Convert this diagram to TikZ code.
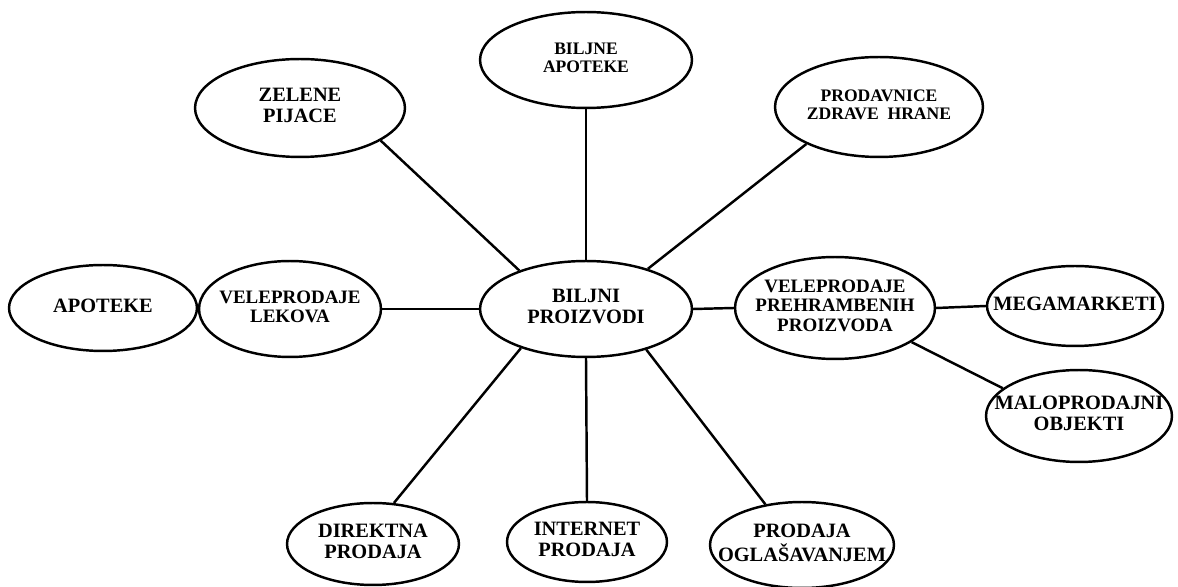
\documentclass[tikz,border=0pt]{standalone}
\usepackage{fontspec}
\setmainfont{Liberation Serif}
\usetikzlibrary{shapes.geometric}
\newcommand{\txt}[1]{\makebox[0pt]{\begin{tabular}{@{}c@{}}#1\end{tabular}}}
\tikzset{
  ell/.style 2 args={ellipse, draw, line width=1.4pt, inner sep=0pt,
    minimum width=#1*0.04cm, minimum height=#2*0.04cm},
  fbig/.style={font=\fontsize{11.6}{11.8}\selectfont\bfseries},
  fmid/.style={font=\fontsize{10.8}{11.2}\selectfont\bfseries},
  fsmall/.style={font=\fontsize{10}{10}\selectfont\bfseries},
  conn/.style={line width=1.4pt}
}
\begin{document}
\begin{tikzpicture}[x=0.02cm, y=-0.02cm]
\useasboundingbox (0,0) rectangle (1178,587);
\node[ell={106}{48}, fbig]   (bp) at (586,309) {\txt{BILJNI\\PROIZVODI}};
\node[ell={106}{48}, fsmall] (ba) at (586,60)  {\txt{BILJNE\\APOTEKE}};
\node[ell={105}{49}, fbig]   (zp) at (300,108) {\txt{ZELENE\\PIJACE}};
\node[ell={104}{50}, fsmall] (pz) at (879,107) {\txt{PRODAVNICE\\ZDRAVE\ \ HRANE}};
\node[ell={94}{43}, fbig]    (ap) at (103,308) {\txt{APOTEKE}};
\node[ell={91}{48}, fmid]    (vl) at (290,309) {\txt{VELEPRODAJE\\LEKOVA}};
\node[ell={100}{51}, fmid]   (vp) at (835,308) {\txt{VELEPRODAJE\\PREHRAMBENIH\\PROIZVODA}};
\node[ell={88}{40}, fbig]    (mm) at (1075,306) {\txt{MEGAMARKETI}};
\node[ell={93}{46}, fbig]    (mo) at (1079,416) {\txt{MALOPRODAJNI\\OBJEKTI}};
\node[ell={86}{41}, fbig]    (dp) at (373,544) {\txt{DIREKTNA\\PRODAJA}};
\node[ell={80}{40}, fbig]    (ip) at (587,542) {\txt{INTERNET\\PRODAJA}};
\node[ell={92}{43}, fbig]    (og) at (802,545) {\txt{PRODAJA\\OGLAŠAVANJEM}};

\draw[conn] (bp.150.8) -- (zp.-22);
\draw[conn] (bp.north) -- (ba.south);
\draw[conn] (bp.33.5) -- (pz.207.8);
\draw[conn] (ap.east) -- (vl.west);
\draw[conn] (vl.east) -- (bp.west);
\draw[conn] (bp.east) -- (vp.west);
\draw[conn] (vp.east) -- (mm.west);
\draw[conn] (vp.-24.4) -- (mo.160);
\draw[conn] (bp.211) -- (dp.63);
\draw[conn] (bp.south) -- (ip.north);
\draw[conn] (bp.326.5) -- (og.132);
\end{tikzpicture}
\end{document}
